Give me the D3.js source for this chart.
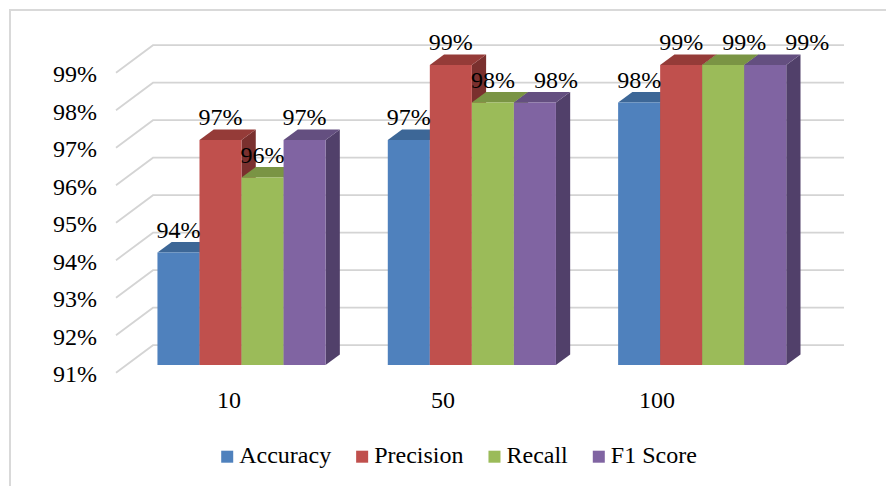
<!DOCTYPE html>
<html>
<head>
<meta charset="utf-8">
<script src="https://cdn.jsdelivr.net/npm/d3@7"></script>
<style>
  html, body { margin: 0; padding: 0; background: #ffffff; }
  svg { display: block; }
</style>
</head>
<body>
<svg id="chart" width="886" height="486"></svg>
<script>
// Sample sizes on the x axis
const categories = ["10", "50", "100"];
const seriesNames = ["Accuracy", "Precision", "Recall", "F1 Score"];

// Metric values per sample size
const accuracy  = [0.94, 0.97, 0.98];
const precision = [0.97, 0.99, 0.99];
const recall    = [0.96, 0.98, 0.99];
const f1Score   = [0.97, 0.98, 0.99];

const yTicks = [0.91, 0.92, 0.93, 0.94, 0.95, 0.96, 0.97, 0.98, 0.99];

// Face colours: front, top, side
const palette = [
  { front: "#4f81bd", top: "#3d6797", side: "#2f5078" },
  { front: "#c0504d", top: "#953b38", side: "#7a302e" },
  { front: "#9bbb59", top: "#7a9444", side: "#627737" },
  { front: "#8064a2", top: "#644f80", side: "#51406a" }
];

const FONT = "'Liberation Serif', Tinos, 'Times New Roman', 'DejaVu Serif', serif";

const seriesValues = [accuracy, precision, recall, f1Score];

const svg = d3.select("#chart");
const W = 886, H = 486;

// Chart frame
svg.append("rect")
  .attr("x", 10).attr("y", 10)
  .attr("width", W + 20).attr("height", H + 20)
  .attr("fill", "none").attr("stroke", "#d9d9d9").attr("stroke-width", 2);

// Oblique 3D projection: the depth axis goes up and to the right
const DX = 37, DY = 27.5;
const F0 = 0.28, F1 = 0.665;   // bar depth span inside the floor

const x0 = d3.scaleBand().domain(categories).range([116, 807])
  .paddingInner(0.27).paddingOuter(0.135);
const x1 = d3.scaleBand().domain(seriesNames).range([0, x0.bandwidth()]);
const y = d3.scaleLinear().domain([0.91, 0.99]).range([372.7, 72.7]);
const base = y.domain()[0];

const proj = (x, v, f) => [x + f * DX, y(v) - f * DY];
const poly = pts => "M" + pts.map(p => p.join(",")).join("L") + "Z";

// Side wall + back wall gridlines
const frontLeft = x0.range()[0];
const backRight = x0.range()[1] + DX;
svg.append("g").selectAll("path")
  .data(yTicks)
  .join("path")
  .attr("d", t => {
    const a = proj(frontLeft, t, 0), b = proj(frontLeft, t, 1);
    return `M${a[0]},${a[1]}L${b[0]},${b[1]}L${backRight},${b[1]}`;
  })
  .attr("fill", "none")
  .attr("stroke", "#d4d4d4")
  .attr("stroke-width", 1.8);

// Y axis labels on the front edge
const yAxis = d3.axisLeft(y)
  .tickValues(yTicks)
  .tickFormat(d3.format(".0%"))
  .tickSize(0)
  .tickPadding(19);
const yg = svg.append("g").attr("transform", `translate(${frontLeft},0)`).call(yAxis)
  .attr("font-family", FONT).attr("font-size", 24);
yg.select(".domain").remove();
yg.selectAll("text")
  .attr("dy", "0.38em")
  .attr("fill", "#000");

// Bars, drawn left to right so each bar hides its neighbour's inner side
const bars = [];
categories.forEach((c, ci) => {
  seriesNames.forEach((s, si) => {
    bars.push({ c, ci, s, si, v: seriesValues[si][ci] });
  });
});

const barG = svg.append("g");
bars.forEach(d => {
  const xl = x0(d.c) + x1(d.s);
  const xr = xl + x1.bandwidth();
  const col = palette[d.si];
  const g = barG.append("g");
  g.append("path")
    .attr("d", poly([proj(xr, base, F0), proj(xr, base, F1), proj(xr, d.v, F1), proj(xr, d.v, F0)]))
    .attr("fill", col.side);
  g.append("path")
    .attr("d", poly([proj(xl, d.v, F0), proj(xr, d.v, F0), proj(xr, d.v, F1), proj(xl, d.v, F1)]))
    .attr("fill", col.top);
  g.append("path")
    .attr("d", poly([proj(xl, base, F0), proj(xr, base, F0), proj(xr, d.v, F0), proj(xl, d.v, F0)]))
    .attr("fill", col.front);
});

// Value labels; a label that would collide with the previous one in its group
// is nudged right by half a bar width
const fmt = d3.format(".0%");
const labelG = svg.append("g").attr("font-family", FONT).attr("font-size", 24);
let prev = null;
bars.forEach(d => {
  const xl = x0(d.c) + x1(d.s);
  const [fx, fy] = proj(xl + x1.bandwidth() / 2, d.v, F0);
  const t = labelG.append("text")
    .attr("text-anchor", "middle")
    .attr("y", fy - 15)
    .text(fmt(d.v));
  let cx = fx;
  t.attr("x", cx);
  if (prev && prev.ci === d.ci) {
    let bb = t.node().getBBox();
    const pb = prev.bb;
    const overlapY = bb.y < pb.y + pb.height - 4 && bb.y + bb.height - 4 > pb.y;
    if (overlapY) {
      while (bb.x < pb.x + pb.width + 2) {
        cx += x1.bandwidth() / 2;
        t.attr("x", cx);
        bb = t.node().getBBox();
      }
    }
  }
  prev = { ci: d.ci, bb: t.node().getBBox() };
});

// Category labels
const xc = d3.scalePoint().domain(categories).range([229, 657]);
svg.append("g").attr("font-family", FONT).attr("font-size", 24)
  .selectAll("text")
  .data(categories)
  .join("text")
  .attr("x", d => xc(d))
  .attr("y", 408)
  .attr("text-anchor", "middle")
  .text(d => d);

// Legend
const legend = svg.append("g").attr("font-family", FONT).attr("font-size", 24);
let lx = 0;
seriesNames.forEach((s, i) => {
  const item = legend.append("g").attr("transform", `translate(${lx},0)`);
  item.append("rect").attr("x", 0).attr("y", -12.3).attr("width", 12).attr("height", 12)
    .attr("fill", palette[i].front);
  const tt = item.append("text").attr("x", 18).attr("y", 0).text(s);
  lx += 18 + tt.node().getComputedTextLength() + 25;
});
const legendWidth = lx - 25;
legend.attr("transform", `translate(${459 - legendWidth / 2},463)`);
</script>
</body>
</html>
